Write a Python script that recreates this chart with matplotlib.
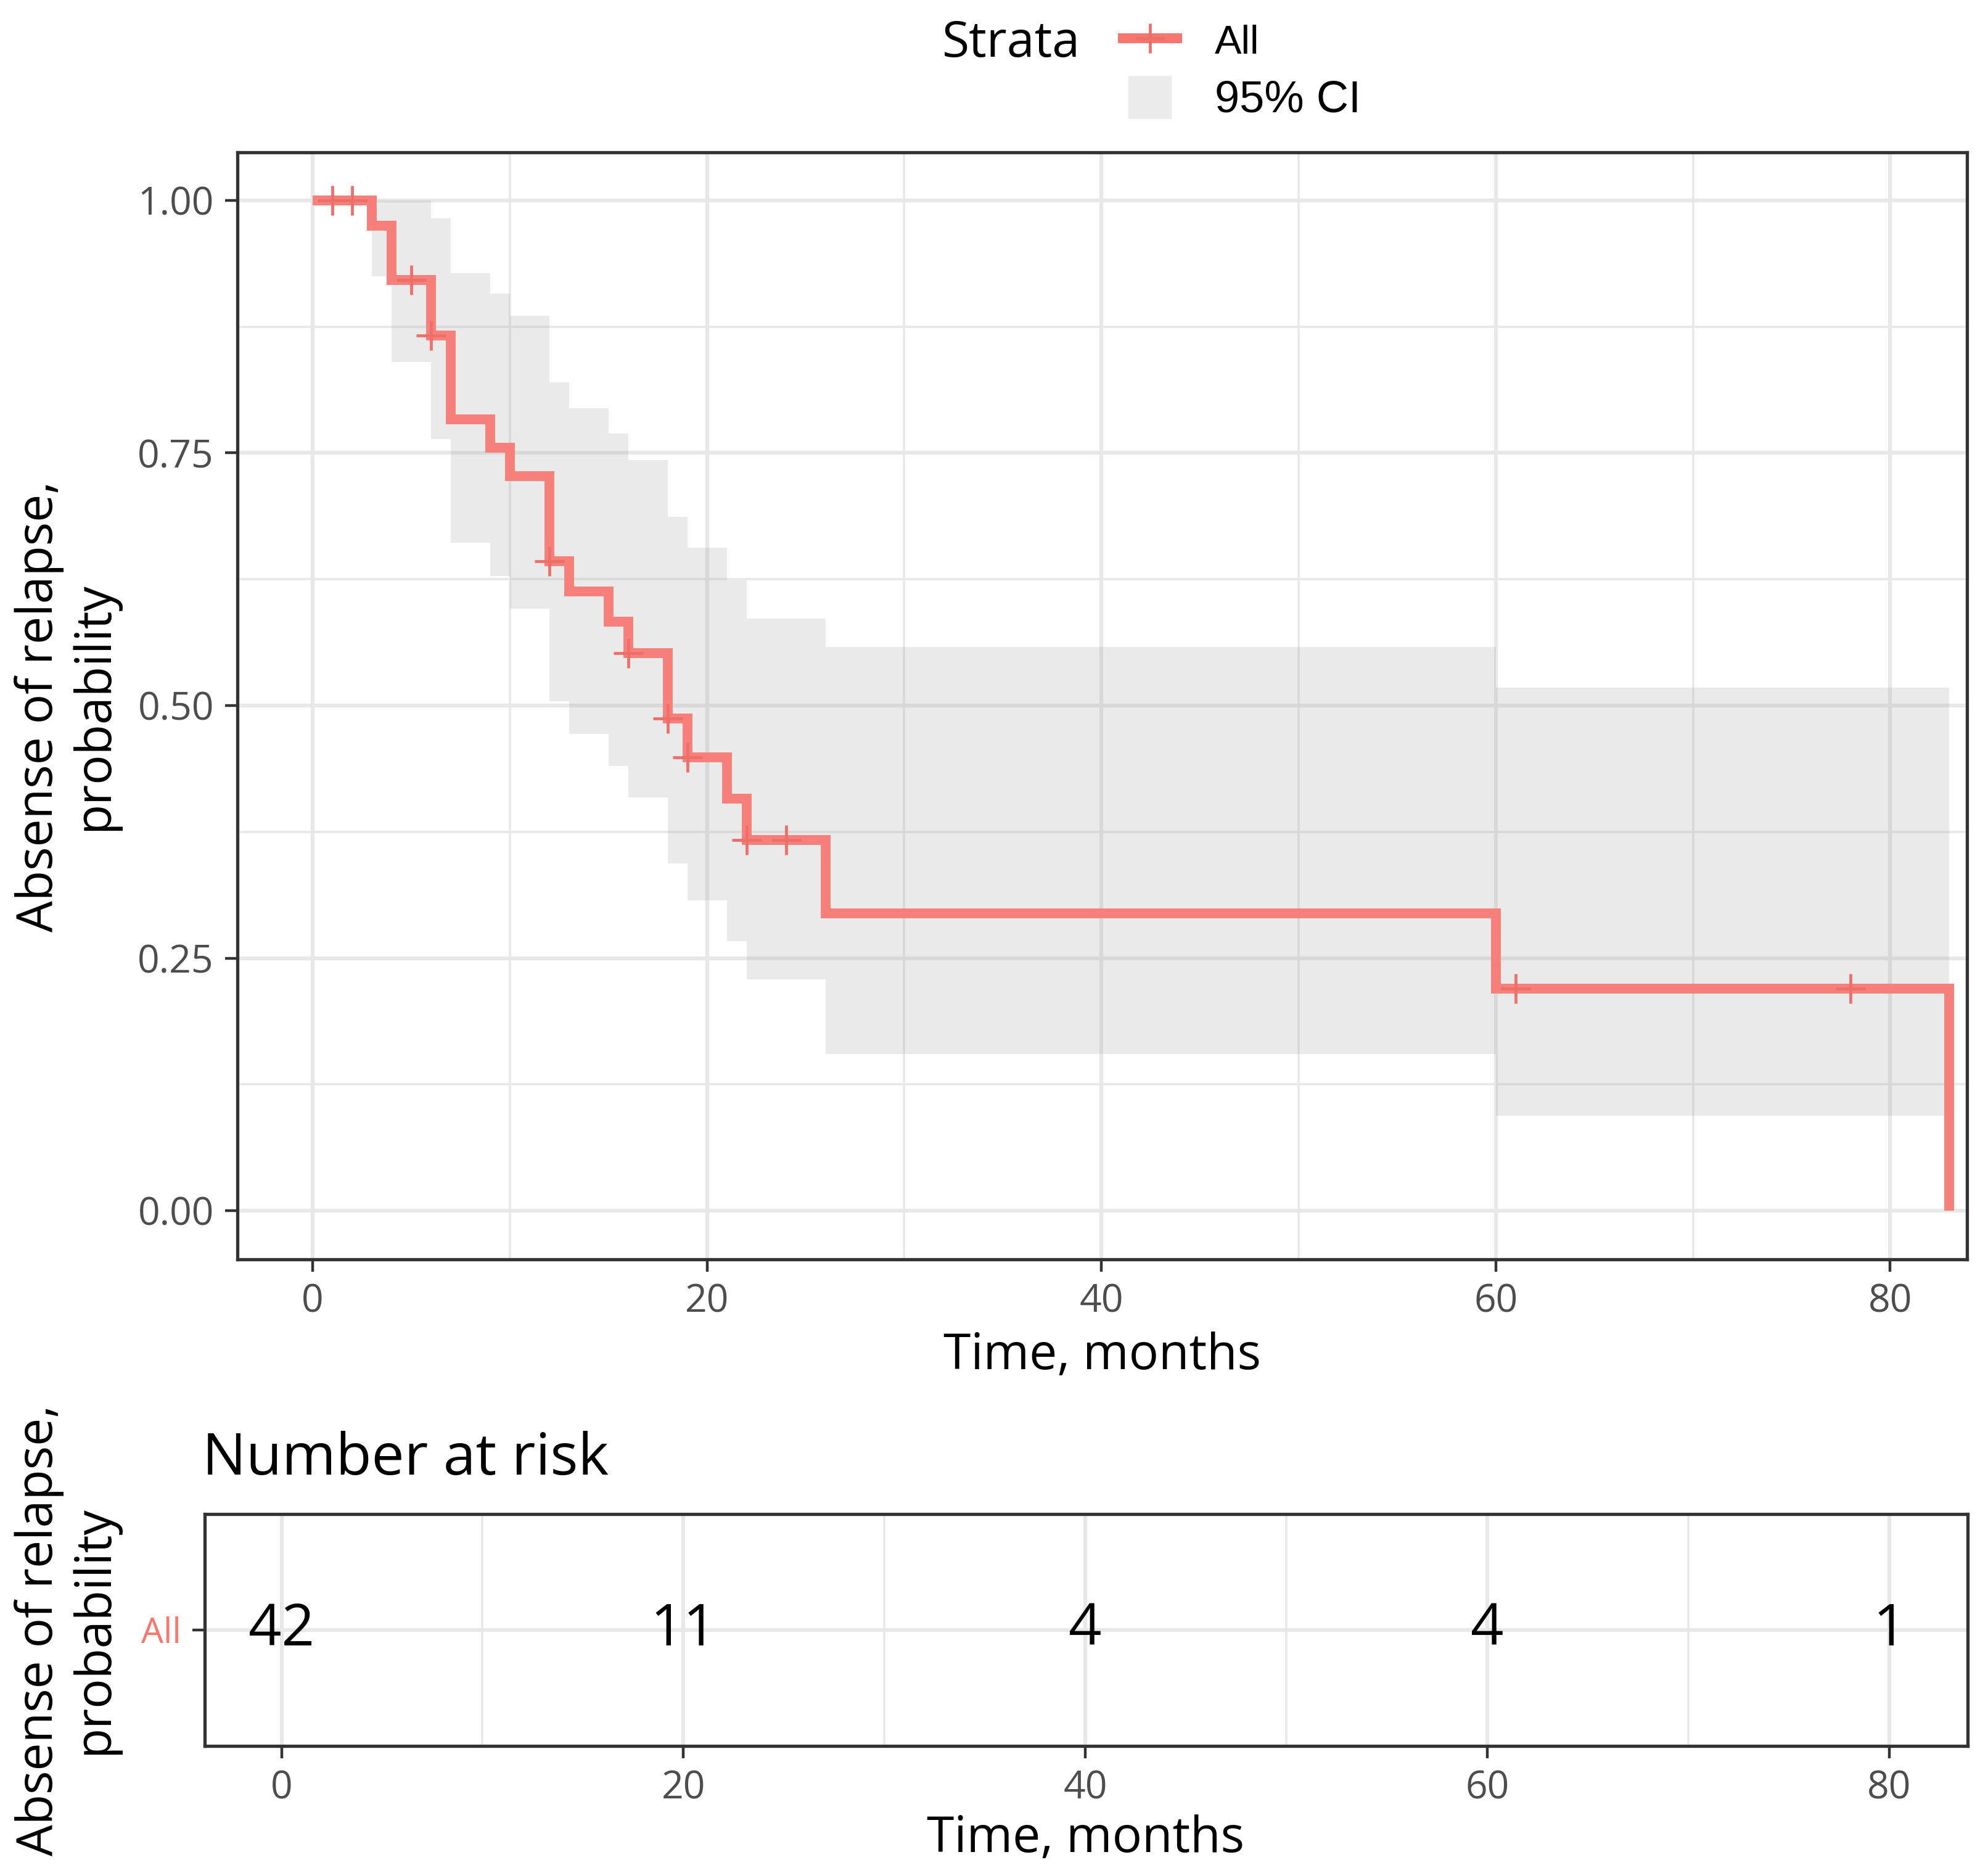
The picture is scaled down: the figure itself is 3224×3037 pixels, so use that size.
import numpy as np
import matplotlib
matplotlib.use("Agg")
import matplotlib.pyplot as plt
from matplotlib.lines import Line2D
from matplotlib.patches import Rectangle

# ---------------- data ----------------
event_times = [0, 3, 4, 6, 7, 9, 10, 12, 13, 15, 16, 18, 19, 21, 22, 26, 60, 83]
surv_prob = [1.0, 0.975, 0.921, 0.866, 0.783, 0.755, 0.727, 0.643, 0.613, 0.583,
             0.552, 0.487, 0.449, 0.408, 0.367, 0.294, 0.220, 0.0]
ci_times = [3, 4, 6, 7, 9, 10, 12, 13, 15, 16, 18, 19, 21, 22, 26, 60]
ci_upper = [1.0, 1.0, 0.982, 0.928, 0.908, 0.886, 0.820, 0.794, 0.769, 0.743,
            0.687, 0.656, 0.624, 0.586, 0.558, 0.518]
ci_lower = [0.925, 0.840, 0.764, 0.661, 0.628, 0.596, 0.504, 0.472, 0.440, 0.409,
            0.344, 0.307, 0.267, 0.229, 0.155, 0.094]
ci_end = 83
censor_times = [1, 2, 5, 6, 12, 16, 18, 19, 22, 24, 61, 78]
risk_times = [0, 20, 40, 60, 80]
risk_counts = [42, 11, 4, 4, 1]
strata = ["All"]
x_ticks = [0, 20, 40, 60, 80]
x_minor = [10, 30, 50, 70]
y_ticks = [0.0, 0.25, 0.50, 0.75, 1.00]
y_minor = [0.125, 0.375, 0.625, 0.875]
y_tick_labels = ["0.00", "0.25", "0.50", "0.75", "1.00"]
x_title = "Time, months"
y_title = "Absense of relapse,\nprobability"

# ---------------- style ----------------
plt.rcParams['font.family'] = ['Open Sans', 'DejaVu Sans']
LINE_COL = '#F8807A'
CENS_COL = '#EE6E68'
STRATA_COL = '#F8766D'
GRID_COL = '#E8E8E8'
BORDER = '#333333'
TICKLAB = '#4D4D4D'
W, H = 3224, 3037

fig = plt.figure(figsize=(W / 100, H / 100), dpi=100)

def fx(px):
    return px / W

def fy(py):
    return 1 - py / H

XLIM = (-3.82, 83.9)

def style_axes(ax):
    for s in ax.spines.values():
        s.set_color(BORDER)
        s.set_linewidth(3.8)
    ax.tick_params(which='major', length=14.4, width=3.2, color=BORDER,
                   labelsize=45, labelcolor=TICKLAB, pad=13)
    ax.tick_params(which='minor', length=0)
    ax.grid(which='major', color=GRID_COL, lw=4.5)
    ax.grid(which='minor', color=GRID_COL, lw=2.6)
    ax.set_axisbelow(True)

# ---------------- main survival panel ----------------
ax = fig.add_axes([fx(385), fy(2042), fx(3190) - fx(385), fy(247) - fy(2042)])
ax.set_xlim(*XLIM)
ax.set_ylim(-0.0482, 1.0476)
ax.set_xticks(x_ticks)
ax.set_xticks(x_minor, minor=True)
ax.set_yticks(y_ticks)
ax.set_yticks(y_minor, minor=True)
ax.set_yticklabels(y_tick_labels)
style_axes(ax)

cx = np.append(np.array(ci_times, float), ci_end)
cu = np.append(np.array(ci_upper), ci_upper[-1])
cl = np.append(np.array(ci_lower), ci_lower[-1])
ax.fill_between(cx, cl, cu, step='post', color='#A8A8A8', alpha=0.24, lw=0, zorder=1)

ax.step(event_times, surv_prob, where='post', color=LINE_COL, lw=11.5,
        solid_joinstyle='miter', solid_capstyle='butt', zorder=3)

et = np.array(event_times)
sp = np.array(surv_prob)
idx = np.searchsorted(et, np.array(censor_times), side='right') - 1
ax.plot(censor_times, sp[idx], ls='none', marker='+', ms=35, mew=3.4,
        color=CENS_COL, zorder=4)

fig.text(fx(1788), fy(2220), x_title, ha='center', va='baseline', fontsize=58,
         color='black')
fig.text(fx(108), fy(1145), y_title, rotation=90, ha='center', va='center',
         multialignment='center', fontsize=58, color='black', linespacing=1.15)

# ---------------- legend ----------------
fig.text(fx(1528), fy(92), "Strata", ha='left', va='baseline', fontsize=58,
         color='black')
fig.add_artist(Line2D([fx(1813), fx(1917)], [fy(62), fy(62)], color=STRATA_COL,
                      lw=11.5, solid_capstyle='butt', transform=fig.transFigure))
fig.add_artist(Line2D([fx(1865)], [fy(62)], color=CENS_COL, marker='+', ms=35,
                      mew=3.4, ls='none', transform=fig.transFigure))
fig.add_artist(Rectangle((fx(1830), fy(193)), fx(1900) - fx(1830), fy(123) - fy(193),
                         facecolor='#EBEBEB', edgecolor='none',
                         transform=fig.transFigure))
fig.text(fx(1970), fy(87), strata[0], ha='left', va='baseline', fontsize=47,
         family=['Liberation Sans', 'DejaVu Sans'], color='black')
fig.text(fx(1970), fy(182), "95% CI", ha='left', va='baseline', fontsize=52,
         family=['Liberation Sans', 'DejaVu Sans'], color='black')

# ---------------- risk table ----------------
rax = fig.add_axes([fx(332), fy(2831), fx(3191) - fx(332), fy(2455) - fy(2831)])
rax.set_xlim(*XLIM)
rax.set_ylim(-0.5, 0.5)
rax.set_xticks(x_ticks)
rax.set_xticks(x_minor, minor=True)
rax.set_yticks([0])
rax.set_yticklabels(strata)
style_axes(rax)
rax.tick_params(axis='y', labelsize=41, labelcolor=STRATA_COL)
for t, n in zip(risk_times, risk_counts):
    rax.text(t, 0, str(n), ha='center', va='center', fontsize=67.5, color='black')

fig.text(fx(328), fy(2391), "Number at risk", ha='left', va='baseline', fontsize=68,
         color='black')
fig.text(fx(1761), fy(3003), x_title, ha='center', va='baseline', fontsize=58,
         color='black')
fig.text(fx(108), fy(2643), y_title, rotation=90, ha='center', va='center',
         multialignment='center', fontsize=58, color='black', linespacing=1.15)

fig.savefig('out.png', dpi=100)
